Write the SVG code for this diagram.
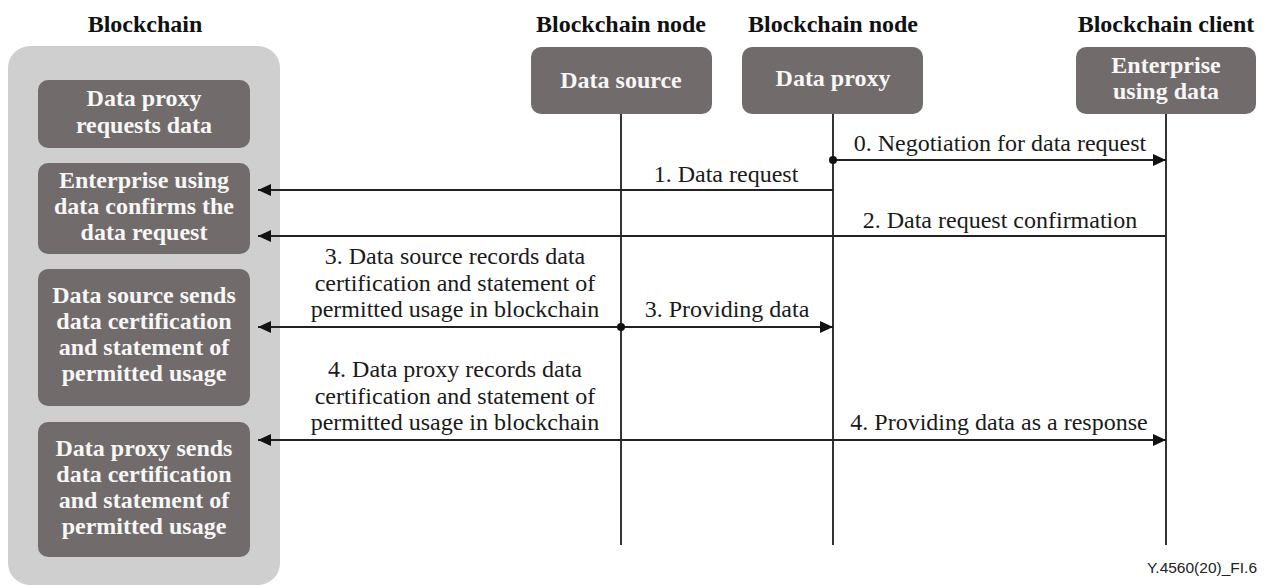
<svg xmlns="http://www.w3.org/2000/svg" width="1266" height="587" viewBox="0 0 1266 587">
<style>
.hdr{font-family:'Liberation Serif','Tinos','DejaVu Serif',serif;font-weight:bold;font-size:24px;fill:#111;text-anchor:middle}
.box{fill:#716b6b}
.bt{font-family:'Liberation Serif','Tinos','DejaVu Serif',serif;font-weight:bold;font-size:24px;fill:#f7f7f7;text-anchor:middle}
.lbl{font-family:'Liberation Serif','Tinos','DejaVu Serif',serif;font-size:24px;fill:#1a1a1a;text-anchor:middle}
.life{stroke:#333;stroke-width:2;fill:none}
.msg{stroke:#222;stroke-width:2;fill:none}
.cap{font-family:'Liberation Sans',Arial,sans-serif;font-size:15.5px;fill:#222;text-anchor:end}
</style>
<defs>
<marker id="ah" markerUnits="userSpaceOnUse" markerWidth="14" markerHeight="12" refX="13" refY="6" orient="auto-start-reverse">
<path d="M0,0 L13,6 L0,12 z" fill="#111"/>
</marker>
</defs>
<rect width="1266" height="587" fill="#fff"/>

<text class="hdr" x="145" y="32">Blockchain</text>
<text class="hdr" x="621" y="32">Blockchain node</text>
<text class="hdr" x="833" y="32">Blockchain node</text>
<text class="hdr" x="1166" y="32">Blockchain client</text>

<g id="blockchain">
<rect x="8" y="46" width="272" height="539" rx="22" fill="#cfcfcf"/>
</g>
<g id="bc1">
<rect class="box" x="38" y="80" width="212" height="68" rx="10"/>
<text class="bt" x="144" y="106">Data proxy</text>
<text class="bt" x="144" y="133">requests data</text>
</g>
<g id="bc2">
<rect class="box" x="38" y="163" width="212" height="91" rx="10"/>
<text class="bt" x="144" y="188">Enterprise using</text>
<text class="bt" x="144" y="214">data confirms the</text>
<text class="bt" x="144" y="240">data request</text>
</g>
<g id="bc3">
<rect class="box" x="38" y="269" width="212" height="137" rx="10"/>
<text class="bt" x="144" y="303">Data source sends</text>
<text class="bt" x="144" y="329">data certification</text>
<text class="bt" x="144" y="355">and statement of</text>
<text class="bt" x="144" y="381">permitted usage</text>
</g>
<g id="bc4">
<rect class="box" x="38" y="422" width="212" height="135" rx="10"/>
<text class="bt" x="144" y="456">Data proxy sends</text>
<text class="bt" x="144" y="482">data certification</text>
<text class="bt" x="144" y="508">and statement of</text>
<text class="bt" x="144" y="534">permitted usage</text>
</g>

<g id="datasource">
<rect class="box" x="531" y="47" width="181" height="67" rx="10"/>
<text class="bt" x="621" y="88">Data source</text>
</g>
<g id="dataproxy">
<rect class="box" x="742" y="47" width="181" height="67" rx="10"/>
<text class="bt" x="833" y="86">Data proxy</text>
</g>
<g id="enterprise">
<rect class="box" x="1076" y="47" width="180" height="67" rx="10"/>
<text class="bt" x="1166" y="73">Enterprise</text>
<text class="bt" x="1166" y="99">using data</text>
</g>

<g id="connectors">
<line class="life" x1="621" y1="114" x2="621" y2="545"/>
<line class="life" x1="833" y1="114" x2="833" y2="545"/>
<line class="life" x1="1166" y1="114" x2="1166" y2="545"/>

<path class="msg" d="M833,160 H1166" marker-end="url(#ah)"/>
<circle cx="833" cy="160" r="4" fill="#111"/>
<path class="msg" d="M833,190 H258" marker-end="url(#ah)"/>
<path class="msg" d="M1166,236 H258" marker-end="url(#ah)"/>
<path class="msg" d="M258,327 H833" marker-start="url(#ah)" marker-end="url(#ah)"/>
<circle cx="621" cy="327" r="4" fill="#111"/>
<path class="msg" d="M258,440 H1166" marker-start="url(#ah)" marker-end="url(#ah)"/>

<text class="lbl" x="1000" y="151">0. Negotiation for data request</text>
<text class="lbl" x="726" y="182">1. Data request</text>
<text class="lbl" x="1000" y="228">2. Data request confirmation</text>
<text class="lbl" x="455" y="264">3. Data source records data</text>
<text class="lbl" x="455" y="291">certification and statement of</text>
<text class="lbl" x="455" y="317">permitted usage in blockchain</text>
<text class="lbl" x="727" y="317">3. Providing data</text>
<text class="lbl" x="455" y="377">4. Data proxy records data</text>
<text class="lbl" x="455" y="404">certification and statement of</text>
<text class="lbl" x="455" y="430">permitted usage in blockchain</text>
<text class="lbl" x="999" y="430">4. Providing data as a response</text>
</g>

<text class="cap" x="1257" y="573">Y.4560(20)_FI.6</text>
</svg>
